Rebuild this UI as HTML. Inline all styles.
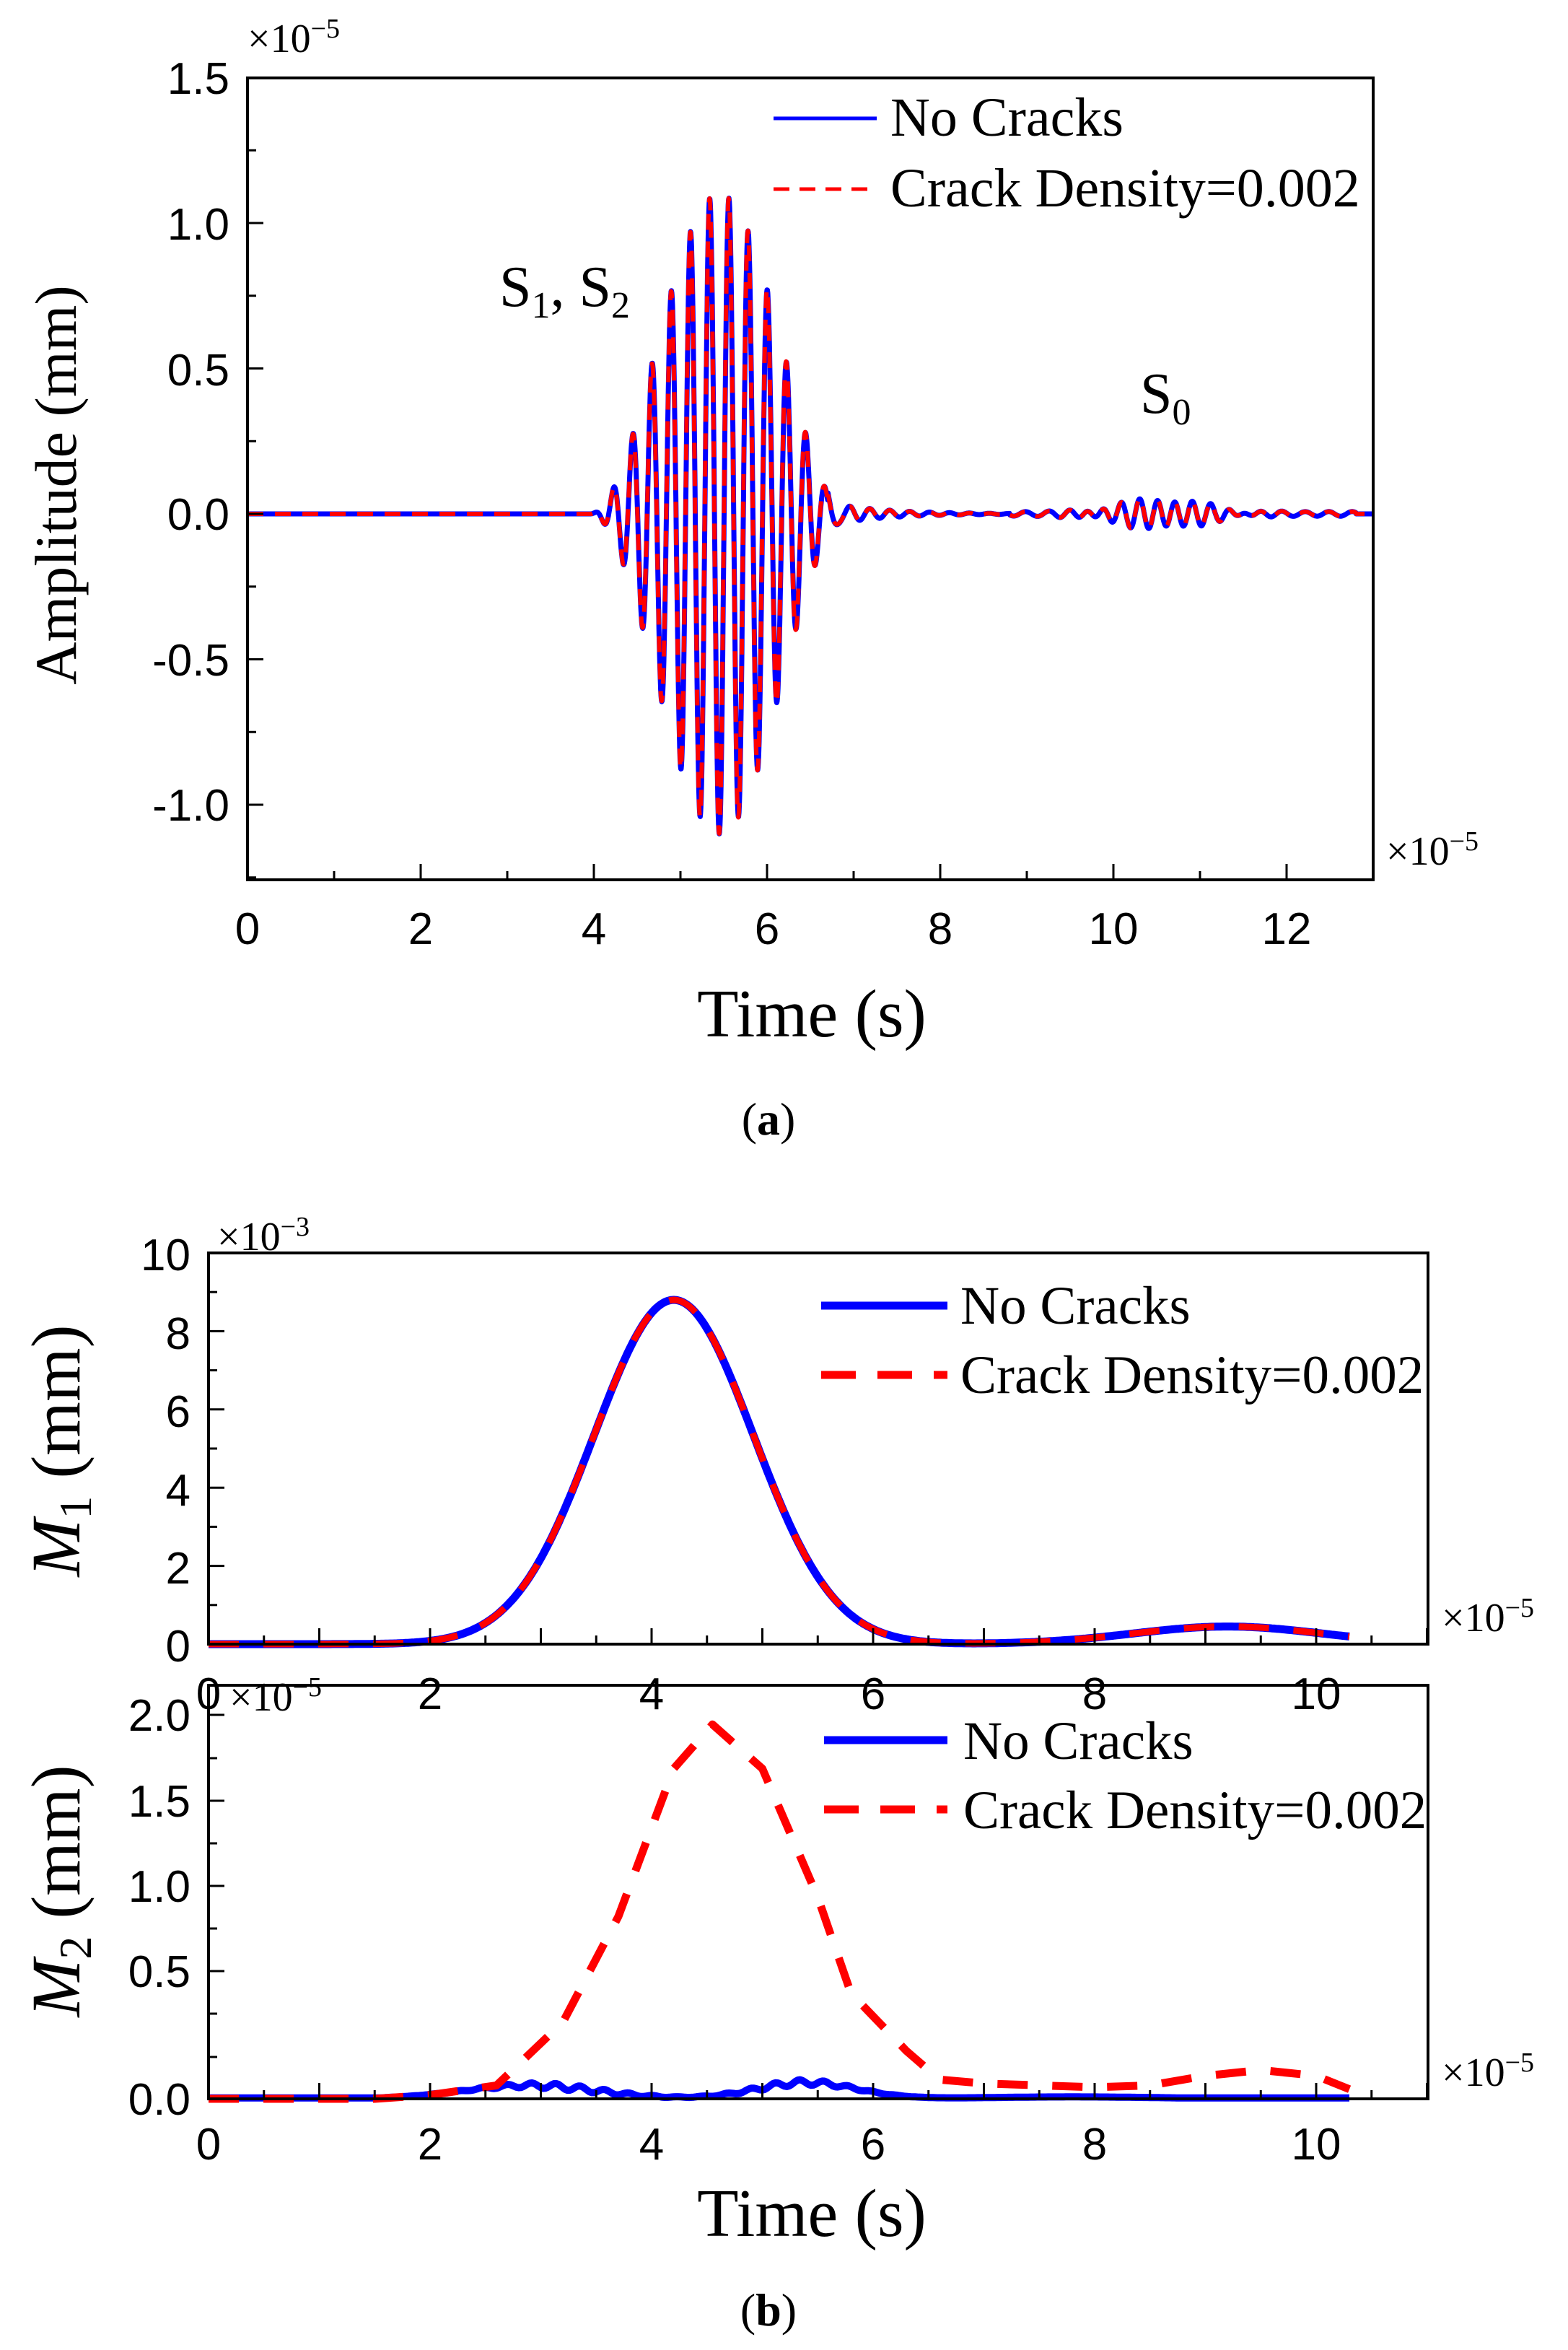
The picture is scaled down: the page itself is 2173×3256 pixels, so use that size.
<!DOCTYPE html>
<html><head><meta charset="utf-8"><style>
html,body{margin:0;padding:0;background:#fff}
svg{display:block}
.tk{font-family:"Liberation Sans",Arial,sans-serif;font-size:62px;fill:#000}
.sr{font-family:"Liberation Serif","Times New Roman",serif;fill:#000}
</style></head><body>
<svg id="s" width="2173" height="3256" viewBox="0 0 2173 3256" xmlns="http://www.w3.org/2000/svg">
<g id="g"></g>
<!-- (a) texts -->
<g class="tk" text-anchor="end">
<text x="318" y="130">1.5</text><text x="318" y="332">1.0</text><text x="318" y="534">0.5</text>
<text x="318" y="734">0.0</text><text x="318" y="936">-0.5</text><text x="318" y="1137">-1.0</text>
</g>
<g class="tk" text-anchor="middle">
<text x="343" y="1308">0</text><text x="583" y="1308">2</text><text x="823" y="1308">4</text>
<text x="1063" y="1308">6</text><text x="1303" y="1308">8</text><text x="1543" y="1308">10</text><text x="1783" y="1308">12</text>
</g>
<text class="sr" x="343" y="72" font-size="56">×10<tspan dy="-20" font-size="38">−5</tspan></text>
<text class="sr" x="1921" y="1198" font-size="56">×10<tspan dy="-20" font-size="38">−5</tspan></text>
<text class="sr" x="1125" y="1436" font-size="94" text-anchor="middle">Time (s)</text>
<text class="sr" x="1065" y="1572" font-size="64" text-anchor="middle">(<tspan font-weight="bold">a</tspan>)</text>
<text class="sr" font-size="82" text-anchor="middle" transform="translate(105,672) rotate(-90)">Amplitude (mm)</text>
<text class="sr" x="692" y="424" font-size="80">S<tspan dy="16" font-size="52">1</tspan><tspan dy="-16">, S</tspan><tspan dy="16" font-size="52">2</tspan></text>
<text class="sr" x="1580" y="572" font-size="80">S<tspan dy="16" font-size="52">0</tspan></text>
<text class="sr" x="1234" y="188" font-size="76">No Cracks</text>
<text class="sr" x="1234" y="286" font-size="76">Crack Density=0.002</text>
<!-- (b) top texts -->
<g class="tk" text-anchor="end">
<text x="264" y="1760">10</text><text x="264" y="1869">8</text><text x="264" y="1977">6</text>
<text x="264" y="2086">4</text><text x="264" y="2194">2</text><text x="264" y="2302">0</text>
</g>
<g class="tk" text-anchor="middle">
<text x="289" y="2368">0</text><text x="596" y="2368">2</text><text x="903" y="2368">4</text>
<text x="1210" y="2368">6</text><text x="1517" y="2368">8</text><text x="1824" y="2368">10</text>
</g>
<text class="sr" x="301" y="1732" font-size="56">×10<tspan dy="-20" font-size="38">−3</tspan></text>
<text class="sr" x="1998" y="2260" font-size="56">×10<tspan dy="-20" font-size="38">−5</tspan></text>
<text class="sr" x="318" y="2370" font-size="56">×10<tspan dy="-20" font-size="38">−5</tspan></text>
<text class="sr" font-size="96" text-anchor="middle" transform="translate(110,2010) rotate(-90)"><tspan font-style="italic">M</tspan><tspan dy="16" font-size="64">1</tspan><tspan dy="-16"> (mm)</tspan></text>
<text class="sr" x="1331" y="1834" font-size="75">No Cracks</text>
<text class="sr" x="1331" y="1930" font-size="75">Crack Density=0.002</text>
<!-- (b) bottom texts -->
<g class="tk" text-anchor="end">
<text x="264" y="2398">2.0</text><text x="264" y="2517">1.5</text><text x="264" y="2635">1.0</text>
<text x="264" y="2753">0.5</text><text x="264" y="2930">0.0</text>
</g>
<g class="tk" text-anchor="middle">
<text x="289" y="2992">0</text><text x="596" y="2992">2</text><text x="903" y="2992">4</text>
<text x="1210" y="2992">6</text><text x="1517" y="2992">8</text><text x="1824" y="2992">10</text>
</g>
<text class="sr" x="1998" y="2890" font-size="56">×10<tspan dy="-20" font-size="38">−5</tspan></text>
<text class="sr" font-size="96" text-anchor="middle" transform="translate(110,2620) rotate(-90)"><tspan font-style="italic">M</tspan><tspan dy="16" font-size="64">2</tspan><tspan dy="-16"> (mm)</tspan></text>
<text class="sr" x="1335" y="2437" font-size="75">No Cracks</text>
<text class="sr" x="1335" y="2533" font-size="75">Crack Density=0.002</text>
<text class="sr" x="1125" y="3098" font-size="94" text-anchor="middle">Time (s)</text>
<text class="sr" x="1065" y="3222" font-size="64" text-anchor="middle">(<tspan font-weight="bold">b</tspan>)</text>
</svg>
<script>
var g=document.getElementById('g'),NS='http://www.w3.org/2000/svg';
function el(t,a){var e=document.createElementNS(NS,t);for(var k in a)e.setAttribute(k,a[k]);g.appendChild(e);return e;}
function path(pts,a){var d='M'+pts.map(function(p){return p[0].toFixed(1)+','+p[1].toFixed(1)}).join('L');a.d=d;a.fill='none';a['stroke-linejoin']='round';return el('path',a);}
// panel a
var L=343,R=1903,T=108,B=1219,X=function(x){return L+x*120},Y=function(y){return 712-y*403};
function sigA(x,ph){var v=0;
 if(x>3.95&&x<6.95){var w=0.5-0.5*Math.cos(2*Math.PI*(x-3.95)/3.0);v+=1.1*w*Math.sin(2*Math.PI*(x-3.95)/0.222+ph);}
 if(x>6.7&&x<9.2){v+=0.04*Math.exp(-(x-6.7)*1.6)*Math.sin(2*Math.PI*x/0.23);}
 if(x>8.8&&x<12.8){var w2=Math.exp(-Math.pow((x-10.55)/0.75,2));v+=0.05*w2*Math.sin(2*Math.PI*x/0.205)+0.008*Math.sin(2*Math.PI*x/0.27);}
 return v;}
var pa=[],pb=[];for(var x=0;x<=13;x+=0.004){pa.push([X(x),Y(sigA(x,0))]);pb.push([X(x),Y(sigA(x,0.05))]);}
path(pa,{stroke:'#0000ff','stroke-width':7});
path(pb,{stroke:'#ff0000','stroke-width':6,'stroke-dasharray':'22 16'});
el('rect',{x:L,y:T,width:R-L,height:B-T,fill:'none',stroke:'#000','stroke-width':4});
for(var i=0;i<=13;i++){var len=i%2==0?22:12;el('line',{x1:X(i),x2:X(i),y1:B,y2:B-len,stroke:'#000','stroke-width':3});}
for(var v=-1.25;v<=1.5;v+=0.25){var len=(Math.abs(v*2-Math.round(v*2))<1e-6)?22:12;el('line',{x1:L,x2:L+len,y1:Y(v),y2:Y(v),stroke:'#000','stroke-width':3});}
el('line',{x1:1072,x2:1215,y1:164,y2:164,stroke:'#0000ff','stroke-width':5});
el('line',{x1:1072,x2:1215,y1:262,y2:262,stroke:'#ff0000','stroke-width':5,'stroke-dasharray':'22 14'});
// panel b
var bL=289,bR=1979,XB=function(x){return bL+x*153.5};
function gau(x,m,s){return Math.exp(-Math.pow((x-m)/s,2)/2);}
function m1(x){return 8.8*gau(x,4.2,0.72)+0.45*gau(x,9.2,0.85);}
var T1=1736,B1=2278,Y1=function(y){return B1-y*54.2};
var p1=[];for(x=0;x<=10.3;x+=0.02)p1.push([XB(x),Y1(m1(x))]);
path(p1,{stroke:'#0000ff','stroke-width':11});
path(p1,{stroke:'#ff0000','stroke-width':9,'stroke-dasharray':'42 34'});
el('rect',{x:bL,y:T1,width:bR-bL,height:B1-T1,fill:'none',stroke:'#000','stroke-width':4});
for(i=0;i<=22;i++){var len=i%2==0?22:12;el('line',{x1:XB(i/2),x2:XB(i/2),y1:B1,y2:B1-len,stroke:'#000','stroke-width':3});}
for(i=0;i<=10;i++){var len=i%2==0?22:12;el('line',{x1:bL,x2:bL+len,y1:Y1(i),y2:Y1(i),stroke:'#000','stroke-width':3});}
el('line',{x1:1138,x2:1313,y1:1809,y2:1809,stroke:'#0000ff','stroke-width':11});
el('line',{x1:1138,x2:1313,y1:1905,y2:1905,stroke:'#ff0000','stroke-width':11,'stroke-dasharray':'48 30'});
var T2=2335,B2=2908,Y2=function(y){return B2-y*266};
var pb1=[];for(x=0;x<=10.3;x+=0.02){var v=0.07*gau(x,2.9,0.6)+0.085*gau(x,5.4,0.45)+0.01*gau(x,7.8,0.8)+0.015*Math.sin(2*Math.PI*x/0.22)*(gau(x,3.2,0.5)+gau(x,5.3,0.4));if(x<1.6)v=0;pb1.push([XB(x),Y2(Math.max(v,0.005))]);}
path(pb1,{stroke:'#0000ff','stroke-width':10});
var rp=[[0,0],[1.5,0],[2,0.02],[2.6,0.07],[3.2,0.4],[3.7,0.95],[4.2,1.72],[4.55,1.95],[5,1.72],[5.5,1.05],[5.8,0.55],[6.3,0.25],[6.6,0.1],[7,0.08],[8,0.06],[8.5,0.07],[9,0.12],[9.5,0.15],[10,0.12],[10.3,0.05]];
path(rp.map(function(p){return [XB(p[0]),Y2(p[1])]}),{stroke:'#ff0000','stroke-width':11,'stroke-dasharray':'42 34'});
el('rect',{x:bL,y:T2,width:bR-bL,height:B2-T2,fill:'none',stroke:'#000','stroke-width':4});
for(i=0;i<=22;i++){var len=i%2==0?22:12;el('line',{x1:XB(i/2),x2:XB(i/2),y1:B2,y2:B2-len,stroke:'#000','stroke-width':3});}
[2376,2495,2613,2731,2908].forEach(function(y){el('line',{x1:bL,x2:bL+22,y1:y,y2:y,stroke:'#000','stroke-width':3});});
[2436,2554,2672,2790,2850].forEach(function(y){el('line',{x1:bL,x2:bL+12,y1:y,y2:y,stroke:'#000','stroke-width':3});});
el('line',{x1:1142,x2:1313,y1:2411,y2:2411,stroke:'#0000ff','stroke-width':11});
el('line',{x1:1142,x2:1313,y1:2507,y2:2507,stroke:'#ff0000','stroke-width':11,'stroke-dasharray':'48 30'});
</script>
</body></html>
